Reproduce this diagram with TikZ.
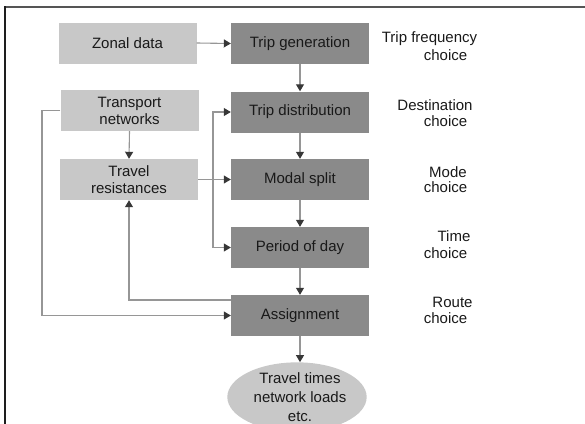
\documentclass[tikz,border=0pt]{standalone}
\usepackage{fontspec}
\setmainfont{Liberation Sans}
\usetikzlibrary{arrows.meta,shapes.geometric}
\definecolor{lightbox}{RGB}{200,200,200}
\definecolor{darkbox}{RGB}{138,138,138}
\definecolor{linegray}{RGB}{150,150,150}
\definecolor{tipgray}{RGB}{55,55,55}
\definecolor{txt}{RGB}{25,25,25}
\tikzset{
  base/.style={minimum width=138pt, minimum height=41pt, inner sep=1pt, align=center,
    font=\fontsize{15}{17}\selectfont, text=txt},
  lightnode/.style={base, fill=lightbox},
  darknode/.style={base, fill=darkbox},
  endnode/.style={ellipse, fill=lightbox, minimum width=136pt, minimum height=68pt,
    inner sep=0pt, align=center, font=\fontsize{15}{19}\selectfont, text=txt},
  lbl/.style={font=\fontsize{15}{17}\selectfont, text=txt, inner sep=0pt},
  conn/.style={draw=linegray, line width=1.1pt,
    -{Triangle[width=8pt,length=7pt,color=tipgray]}},
}
\begin{document}
\begin{tikzpicture}[x=1pt,y=-1pt]
\useasboundingbox (0,0) rectangle (585,423);
\clip (0,0) rectangle (585,423);
% frame
\draw[draw={rgb,255:red,85;green,85;blue,85}, line width=2pt] (5,7) -- (586,7);
\draw[draw={rgb,255:red,30;green,30;blue,30}, line width=2pt] (5,6) -- (5,424);
% nodes
\node[lightnode] (zd) at (127.5,43) {Zonal data};
\node[lightnode] (tn) at (129.5,110.5) {Transport\\networks};
\node[lightnode] (tr) at (129,179.5) {Travel\\resistances};
\node[darknode] (tg) at (300,43.5) {Trip generation};
\node[darknode] (td) at (300,112) {Trip distribution};
\node[darknode] (ms) at (300,179.5) {Modal split};
\node[darknode] (pd) at (300,247.5) {Period of day};
\node[darknode] (as) at (300,315.5) {Assignment};
\node[endnode] (el) at (297,397) {\hspace*{6pt}Travel times\\\hspace*{6pt}network loads\\\hspace*{6pt}etc.};
% labels
\node[lbl] (l1a) at (429.5,39) {Trip frequency};
\node[lbl] (l1b) at (445.5,55) {choice};
\node[lbl] (l2a) at (435,105) {Destination};
\node[lbl] (l2b) at (445.5,121) {choice};
\node[lbl] (l3a) at (448,172) {Mode};
\node[lbl] (l3b) at (445.5,187) {choice};
\node[lbl] (l4a) at (454,236) {Time};
\node[lbl] (l4b) at (445.5,253) {choice};
\node[lbl] (l5a) at (452.5,302) {Route};
\node[lbl] (l5b) at (445.5,318) {choice};
% coordinates
\coordinate (brx) at (213,0);
\coordinate (lfx) at (42,0);
% connectors
\draw[conn] (zd.east) -- (tg.west);
\draw[conn] (tg.south) -- (td.north);
\draw[conn] (td.south) -- (ms.north);
\draw[conn] (ms.south) -- (pd.north);
\draw[conn] (pd.south) -- (as.north);
\draw[conn] (as.south) -- (el.north -| as.south);
\draw[conn] (tn.south) -- (tr.north);
\draw[conn] (tr.east) -- (ms.west);
\draw[conn] (brx |- tr.east) |- (td.west);
\draw[conn] (brx |- tr.east) |- (pd.west);
\draw[conn] (tn.west) -- (lfx |- tn.west) |- (as.west);
\draw[conn] ([yshift=15.5pt]as.west) -| (tr.south);
\end{tikzpicture}
\end{document}
